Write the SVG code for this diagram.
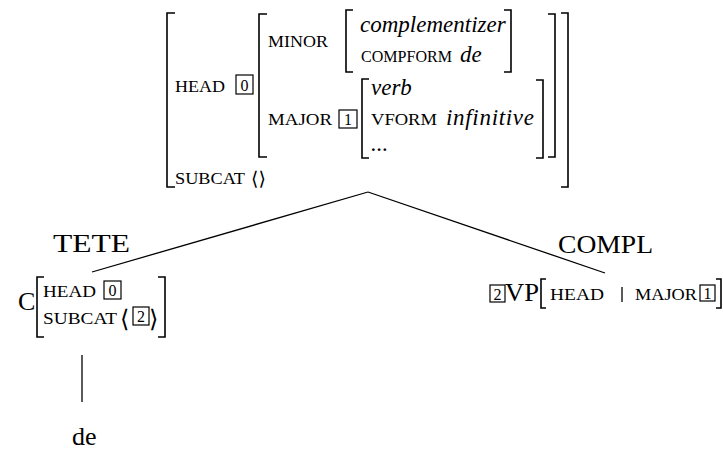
<svg xmlns="http://www.w3.org/2000/svg" width="723" height="450" viewBox="0 0 723 450" font-family="Liberation Serif, serif">
<style>
text { font-family: "Liberation Serif", "Times New Roman", serif; fill: #000; }
.sc { font-size: 16.5px; }
.it { font-size: 23px; font-style: italic; }
.big { font-size: 26px; }
.num { font-size: 16px; text-anchor: middle; }
.ang { font-family: "DejaVu Serif", serif; font-size: 19px; }
.br { fill: none; stroke: #000; stroke-width: 1.6; }
.box { fill: none; stroke: #000; stroke-width: 1.2; }
.edge { fill: none; stroke: #000; stroke-width: 1.3; }
</style>
<rect width="723" height="450" fill="#fff"/>

<g id="root">
  <path class="br" d="M175,13 H167 V187 H175"/>
  <path class="br" d="M561,13 H568 V187 H561"/>
  <text class="sc" x="175" y="92" textLength="50" lengthAdjust="spacingAndGlyphs">HEAD</text>
  <rect class="box" x="236" y="75" width="17" height="19"/>
  <text class="num" x="244.5" y="90.5">0</text>
  <path class="br" d="M267,14 H259 V157 H267"/>
  <path class="br" d="M548,14 H555 V157 H548"/>
  <text class="sc" x="268" y="47" textLength="60" lengthAdjust="spacingAndGlyphs">MINOR</text>
  <path class="br" d="M353,10 H346 V72 H353"/>
  <path class="br" d="M504,10 H511 V72 H504"/>
  <text class="it" x="360" y="32">complementizer</text>
  <text class="sc" x="361" y="62" textLength="91" lengthAdjust="spacingAndGlyphs">COMPFORM</text>
  <text class="it" x="460" y="62">de</text>
  <text class="sc" x="268" y="125" textLength="64" lengthAdjust="spacingAndGlyphs">MAJOR</text>
  <rect class="box" x="339" y="110" width="18" height="18"/>
  <text class="num" x="348" y="125">1</text>
  <path class="br" d="M369,79 H362 V158 H369"/>
  <path class="br" d="M536,80 H543 V158 H536"/>
  <text class="it" x="371" y="95">verb</text>
  <text class="sc" x="371" y="125" textLength="66" lengthAdjust="spacingAndGlyphs">VFORM</text>
  <text class="it" x="446" y="125" textLength="88">infinitive</text>
  <text class="it" x="371" y="151">...</text>
  <text class="sc" x="175" y="184" textLength="70" lengthAdjust="spacingAndGlyphs">SUBCAT</text>
  <text class="ang" x="251" y="185">⟨⟩</text>
</g>

<g id="connectors">
  <path class="edge" d="M368,192 L92,272"/>
  <path class="edge" d="M368,192 L605,273"/>
  <path class="edge" d="M82,355 V402"/>
</g>

<g id="tete">
  <text class="big" x="53" y="252" textLength="77" lengthAdjust="spacingAndGlyphs">TETE</text>
  <text class="big" x="18" y="310">C</text>
  <path class="br" d="M44,277 H37 V337 H44"/>
  <path class="br" d="M158,277 H165 V337 H158"/>
  <text class="sc" x="43" y="297" textLength="53" lengthAdjust="spacingAndGlyphs">HEAD</text>
  <rect class="box" x="104" y="281" width="17" height="18"/>
  <text class="num" x="112.5" y="296">0</text>
  <text class="sc" x="43" y="324" textLength="74" lengthAdjust="spacingAndGlyphs">SUBCAT</text>
  <text class="ang" x="120" y="327" style="font-size:24px">⟨</text>
  <rect class="box" x="133" y="307" width="16" height="18"/>
  <text class="num" x="141" y="322">2</text>
  <text class="ang" x="149" y="327" style="font-size:24px">⟩</text>
</g>

<g id="compl">
  <text class="big" x="558" y="253" textLength="95" lengthAdjust="spacingAndGlyphs">COMPL</text>
  <rect class="box" x="490" y="285" width="15" height="17"/>
  <text class="num" x="497.5" y="299.5">2</text>
  <text class="big" x="505" y="301" textLength="34" lengthAdjust="spacingAndGlyphs">VP</text>
  <path class="br" d="M546,279 H541 V308 H546"/>
  <path class="br" d="M716,279 H721 V308 H716"/>
  <text class="sc" x="550" y="300" textLength="54" lengthAdjust="spacingAndGlyphs">HEAD</text>
  <path class="edge" d="M622,287 V302" stroke-width="1"/>
  <text class="sc" x="635" y="300" textLength="62" lengthAdjust="spacingAndGlyphs">MAJOR</text>
  <rect class="box" x="700" y="285" width="15" height="16"/>
  <text class="num" x="707.5" y="299">1</text>
</g>

<g id="leaf">
  <text class="big" x="72" y="445">de</text>
</g>
</svg>
